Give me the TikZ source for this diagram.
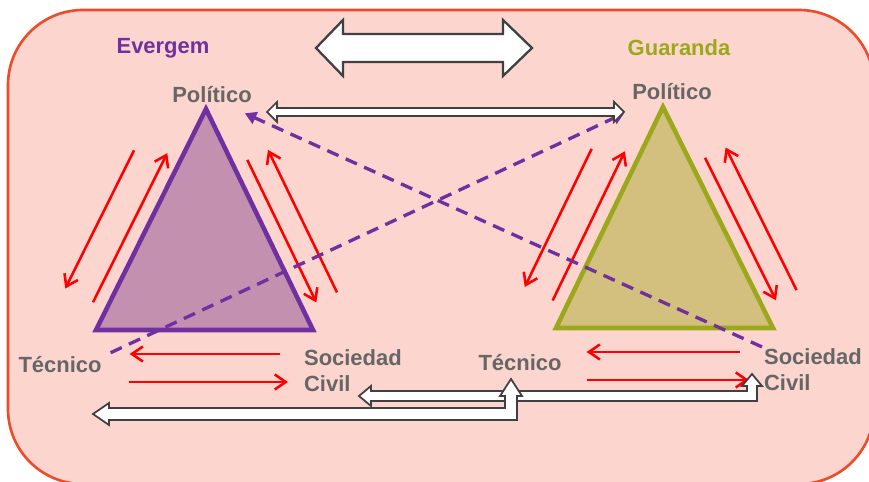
\documentclass[tikz,border=0pt]{standalone}
\usepackage{fontspec}
\setmainfont{Liberation Sans}
\usepackage{xcolor}
\definecolor{govbg}{HTML}{FCD5CF}
\definecolor{govframe}{HTML}{EE4B2B}
\definecolor{govpurple}{HTML}{7030A0}
\definecolor{govpink}{HTML}{C490B0}
\definecolor{govolive}{HTML}{9BA81C}
\definecolor{govtan}{HTML}{D3BF7E}
\definecolor{govtext}{HTML}{666666}
\definecolor{govedge}{HTML}{404040}
\usepackage{tikz}
\usetikzlibrary{arrows.meta,calc}
\tikzset{
  govlabel/.style={font=\fontsize{12.5}{14.7}\selectfont\bfseries,text=govtext,inner sep=1pt,align=left},
  govtitle/.style={font=\fontsize{12.5}{14.7}\selectfont\bfseries,inner sep=1pt},
  govred/.style={draw=red,line width=1.45pt,-{Straight Barb[length=2.2mm,width=3mm]}},
  govdash/.style={draw=govpurple,line width=1.9pt,dash pattern=on 7pt off 4.5pt,-{Triangle[length=2.3mm,width=2.5mm]}},
  govhollow/.style={draw=govedge,fill=white,line width=1pt,line join=miter},
  govtri/.style={line width=2.6pt,line join=miter},
}

\begin{document}
\begin{tikzpicture}[x=0.02cm,y=-0.02cm]
 % frame and the two municipal triangles
\path[use as bounding box] (0,0) rectangle (869,482);
\clip (0,0) rectangle (869,482);
\draw[govframe,fill=govbg,line width=1.5pt,rounded corners=1.5cm] (8,10) rectangle (874,484);

\node[govtitle,text=govpurple] (ev) at (163,48) {Evergem};
\node[govtitle,text=govolive] (gu) at (679,48) {Guaranda};
\node[govlabel] (pol1) at (212,95) {Político};
\node[govlabel] (pol2) at (672,92) {Político};
\node[govlabel] (tec1) at (60,365) {Técnico};
\node[govlabel] (tec2) at (520,363) {Técnico};
\node[govlabel,anchor=west] (soc1) at (302,371) {Sociedad\\Civil};
\node[govlabel,anchor=west] (soc2) at (762,370) {Sociedad\\Civil};

\coordinate (p1) at (206,109); \coordinate (l1) at (96,330); \coordinate (r1) at (313,330);
\coordinate (p2) at (663,107); \coordinate (l2) at (556,328); \coordinate (r2) at (773,328);
\draw[govtri,draw=govpurple,fill=govpink] (p1) -- (l1) -- (r1) -- cycle;
\draw[govtri,draw=govolive,fill=govtan] (p2) -- (l2) -- (r2) -- cycle;

% red flows along the sides
\draw[govred] ($(p1)!0.28!(l1)!0.92cm!-90:(l1)$) -- ($(p1)!0.905!(l1)!0.92cm!-90:(l1)$);
\draw[govred] ($(p1)!0.905!(l1)!0.3cm!-90:(l1)$) -- ($(p1)!0.23!(l1)!0.3cm!-90:(l1)$);
\draw[govred] ($(p1)!0.26!(r1)!0.3cm!90:(r1)$) -- ($(p1)!0.905!(r1)!0.3cm!90:(r1)$);
\draw[govred] ($(p1)!0.905!(r1)!0.76cm!90:(r1)$) -- ($(p1)!0.26!(r1)!0.76cm!90:(r1)$);
\draw[govred] ($(p2)!0.28!(l2)!0.92cm!-90:(l2)$) -- ($(p2)!0.905!(l2)!0.92cm!-90:(l2)$);
\draw[govred] ($(p2)!0.905!(l2)!0.3cm!-90:(l2)$) -- ($(p2)!0.23!(l2)!0.3cm!-90:(l2)$);
\draw[govred] ($(p2)!0.26!(r2)!0.3cm!90:(r2)$) -- ($(p2)!0.905!(r2)!0.3cm!90:(r2)$);
\draw[govred] ($(p2)!0.905!(r2)!0.76cm!90:(r2)$) -- ($(p2)!0.26!(r2)!0.76cm!90:(r2)$);
\draw[govred] ($(soc1.west)+(-22,-17)$) -- ($(tec1.east)+(26,-11)$);
\draw[govred] ($(tec1.east)+(25,17)$) -- ($(soc1.west)+(-14,11)$);
\draw[govred] ($(soc2.west)+(-22,-18)$) -- ($(tec2.east)+(23,-11)$);
\draw[govred] ($(tec2.east)+(23,17)$) -- ($(soc2.west)+(-13,10)$);

% crossing links
\draw[govdash] ($(tec1.north east)+(7,-2)$) -- ($(pol2.south west)+(-6,11)$);
\draw[govdash] (soc2.north west) -- ($(pol1.south east)+(-9,8)$);

% hollow exchange arrows
\coordinate (ta) at (316,48); \coordinate (tb) at (532,48);
\draw[govhollow,line width=1.3pt] (ta) -- ($(ta)+(27,-28)$) -- ($(ta)+(27,-14)$) -- ($(tb)+(-29,-14)$) -- ($(tb)+(-29,-28)$) -- (tb)
  -- ($(tb)+(-29,28)$) -- ($(tb)+(-29,14)$) -- ($(ta)+(27,14)$) -- ($(ta)+(27,28)$) -- cycle;
\coordinate (ma) at (267,112); \coordinate (mb) at (624,112);
\draw[govhollow] (ma) -- ($(ma)+(10,-10)$) -- ($(ma)+(10,-4)$) -- ($(mb)+(-10,-4)$) -- ($(mb)+(-10,-10)$) -- (mb)
  -- ($(mb)+(-10,10)$) -- ($(mb)+(-10,4)$) -- ($(ma)+(10,4)$) -- ($(ma)+(10,10)$) -- cycle;
\coordinate (fa) at (359,396); \coordinate (fb) at (752,374);
\draw[govhollow] (fa) -- ($(fa)+(12,-10)$) -- ($(fa)+(12,-5)$) -- ($(fb)+(-5,17)$) -- ($(fb)+(-5,12)$) -- ($(fb)+(-10,12)$) -- (fb)
  -- ($(fb)+(10,12)$) -- ($(fb)+(5,12)$) -- ($(fb)+(5,27)$) -- ($(fa)+(12,5)$) -- ($(fa)+(12,10)$) -- cycle;
\coordinate (ea) at (93,414); \coordinate (eb) at (511,379);
\draw[govhollow] (ea) -- ($(ea)+(16,-11)$) -- ($(ea)+(16,-6)$) -- ($(eb)+(-6,29)$) -- ($(eb)+(-6,17)$) -- ($(eb)+(-11,17)$) -- (eb)
  -- ($(eb)+(11,17)$) -- ($(eb)+(6,17)$) -- ($(eb)+(6,41)$) -- ($(ea)+(16,6)$) -- ($(ea)+(16,11)$) -- cycle;
\end{tikzpicture}
\end{document}
